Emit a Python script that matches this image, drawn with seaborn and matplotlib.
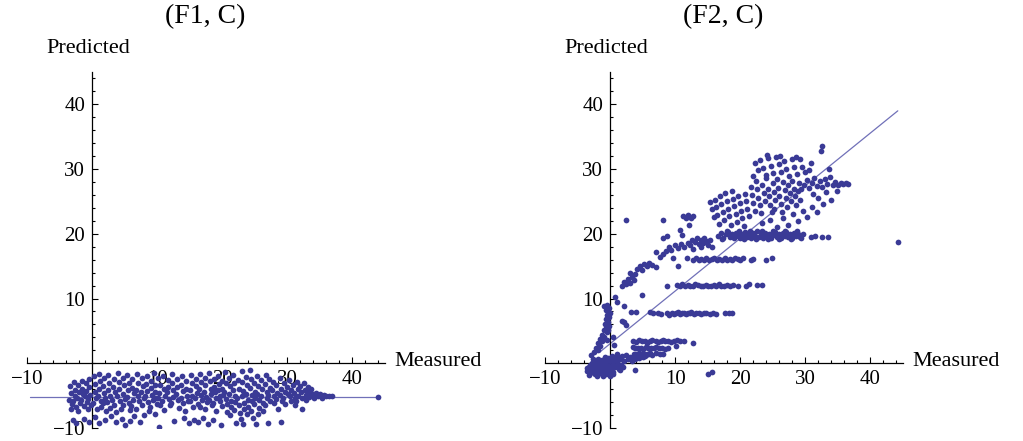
import numpy as np
import pandas as pd
import matplotlib
matplotlib.use("Agg")
import matplotlib.pyplot as plt
from matplotlib.ticker import FixedLocator, MultipleLocator
import seaborn as sns

# ---------------------------------------------------------------
# (F1, C): measured vs predicted
# ---------------------------------------------------------------
f1_points = [
    (-3.4, -3.5), (-3.3, -4.6), (-3.5, -5.6), (-3.1, -6.3), (-3.2, -7.0), (-2.8, -2.9), (-2.7, -4.1),
    (-2.6, -5.0), (-2.9, -5.9), (-2.5, -6.8), (-2.2, -3.4), (-2.0, -4.4), (-2.3, -5.3), (-1.9, -6.1),
    (-2.1, -7.4), (-1.6, -2.7), (-1.5, -3.9), (-1.4, -4.8), (-1.7, -5.7), (-1.3, -6.6), (-1.0, -3.1),
    (-0.9, -4.3), (-1.1, -5.1), (-0.8, -6.0), (-0.7, -7.1), (-0.5, -2.5), (-0.4, -3.6), (-0.3, -4.9),
    (-0.6, -5.5), (-0.2, -6.4), (-3.0, -8.8), (-2.4, -9.2), (-1.2, -8.6), (-0.5, -9.0),
    (0.3, -2.0), (0.5, -3.2), (0.4, -4.4), (0.6, -5.3), (0.2, -6.2), (0.7, -7.0), (0.5, -8.3),
    (1.0, -1.6), (1.2, -2.8), (1.1, -3.9), (0.9, -5.0), (1.3, -5.8), (1.4, -6.7), (1.0, -9.3),
    (1.8, -2.3), (1.7, -3.5), (1.9, -4.6), (2.0, -5.4), (1.6, -6.2), (2.1, -7.3), (2.0, -8.8),
    (2.5, -1.8), (2.6, -3.0), (2.4, -4.1), (2.7, -5.0), (2.3, -6.0), (2.8, -6.9), (2.9, -8.1),
    (3.3, -2.4), (3.2, -3.7), (3.5, -4.5), (3.1, -5.6), (3.4, -6.5), (3.6, -7.6), (3.7, -9.0),
    (4.0, -1.5), (4.1, -2.9), (4.2, -4.0), (3.9, -5.1), (4.3, -5.9), (4.4, -7.0), (4.6, -8.6),
    (4.8, -2.2), (4.9, -3.4), (4.7, -4.7), (5.0, -5.5), (4.8, -6.4), (5.1, -9.5),
    (5.4, -1.8), (5.6, -3.1), (5.5, -4.2), (5.3, -5.2), (5.7, -6.1), (5.8, -7.2), (5.9, -8.9),
    (6.2, -2.5), (6.1, -3.8), (6.4, -4.6), (6.3, -5.7), (6.0, -6.6), (6.5, -8.2), (6.9, -1.6),
    (7.0, -3.0), (6.8, -4.1), (7.1, -5.0), (7.2, -5.9), (6.7, -7.0), (7.3, -9.1), (7.6, -2.2),
    (7.8, -3.5), (7.5, -4.5), (7.9, -5.4), (7.7, -6.5), (8.0, -8.0), (8.4, -1.9), (8.3, -3.2),
    (8.5, -4.3), (8.2, -5.1), (8.6, -6.0), (8.7, -7.4), (9.1, -2.7), (9.0, -3.8), (9.2, -4.9),
    (9.3, -5.7), (8.9, -6.8), (9.5, -1.5), (9.7, -3.4), (9.6, -4.4), (9.8, -5.3), (9.9, -6.3),
    (9.6, -7.8),
    (10.2, -2.2), (10.4, -3.3), (10.3, -4.6), (10.1, -5.4), (10.5, -6.5), (10.3, -9.8), (10.9, -1.9),
    (11.0, -3.9), (11.2, -5.0), (10.8, -5.9), (11.1, -7.2), (11.6, -2.6), (11.7, -3.6), (11.5, -4.5),
    (11.8, -5.5), (11.9, -6.4), (12.3, -1.7), (12.2, -3.0), (12.4, -4.1), (12.5, -5.2), (12.1, -6.1),
    (12.6, -8.9), (13.0, -2.4), (13.1, -3.6), (12.9, -4.8), (13.2, -5.6), (13.3, -6.9), (13.8, -1.9),
    (13.7, -3.3), (13.9, -4.3), (13.6, -5.3), (14.0, -6.2), (14.1, -8.5), (14.5, -2.7), (14.4, -3.9),
    (14.6, -5.0), (14.7, -5.8), (14.3, -7.3), (14.9, -9.3),
    (15.2, -1.8), (15.3, -3.1), (15.1, -4.2), (15.4, -5.1), (15.0, -5.9), (15.5, -6.8), (15.6, -8.8),
    (15.9, -2.4), (16.0, -3.5), (16.1, -4.6), (15.8, -5.4), (16.2, -6.3), (16.3, -9.0), (16.6, -1.6),
    (16.7, -2.9), (16.5, -4.0), (16.8, -4.9), (16.9, -5.7), (16.6, -6.7), (17.0, -8.4), (17.3, -2.2),
    (17.4, -3.4), (17.2, -4.4), (17.5, -5.2), (17.6, -6.0), (17.3, -7.1), (17.8, -9.4), (18.0, -1.5),
    (18.1, -2.8), (18.3, -3.9), (18.2, -4.8), (17.9, -5.6), (18.4, -6.4), (18.5, -8.7), (18.8, -2.5),
    (18.7, -3.6), (18.9, -4.5), (19.0, -5.3), (18.6, -6.2), (19.1, -7.3), (19.4, -1.9), (19.5, -3.2),
    (19.3, -4.2), (19.6, -5.0), (19.7, -5.9), (19.8, -9.6), (19.9, -2.7), (20.0, -4.0), (20.1, -4.9),
    (19.9, -6.6),
    (20.4, -1.4), (20.5, -3.0), (20.3, -4.4), (20.6, -5.5), (20.7, -6.3), (20.8, -7.5), (21.1, -2.2),
    (21.2, -3.5), (21.0, -4.7), (21.3, -5.8), (21.4, -6.8), (21.2, -8.0), (21.7, -1.8), (21.8, -3.1),
    (21.6, -4.2), (21.9, -5.1), (22.0, -6.0), (21.8, -7.2), (22.1, -9.3), (22.4, -2.6), (22.5, -3.9),
    (22.3, -5.4), (22.6, -6.5), (22.7, -7.7), (22.9, -8.6), (23.0, -1.2), (23.1, -2.9), (23.2, -4.3),
    (23.0, -5.0), (23.3, -6.2), (23.4, -7.0), (23.2, -9.4), (23.7, -2.1), (23.8, -3.4), (23.6, -4.7),
    (23.9, -5.6), (24.0, -6.7), (23.8, -7.9), (24.3, -1.0), (24.4, -2.5), (24.2, -3.8), (24.5, -4.9),
    (24.6, -5.9), (24.4, -7.3), (24.7, -8.5), (24.9, -3.0), (25.0, -4.4), (25.1, -5.3), (24.8, -6.3),
    (25.2, -9.4),
    (25.4, -1.9), (25.5, -3.5), (25.3, -4.8), (25.6, -5.7), (25.7, -6.9), (25.5, -7.8), (26.0, -2.6),
    (26.1, -4.0), (25.9, -5.0), (26.2, -6.1), (26.3, -7.4), (26.7, -1.8), (26.6, -3.2), (26.8, -4.5),
    (26.9, -5.4), (26.5, -6.5), (27.2, -2.4), (27.3, -3.8), (27.1, -4.9), (27.4, -5.8), (27.0, -9.2),
    (27.8, -2.9), (27.7, -4.2), (27.9, -5.1), (28.0, -6.2), (28.3, -3.4), (28.4, -4.6), (28.2, -5.5),
    (28.5, -7.0), (28.9, -2.2), (29.0, -4.0), (28.8, -4.9), (29.1, -5.8), (29.0, -9.0), (29.5, -3.0),
    (29.6, -4.4), (29.4, -5.3), (29.7, -6.3), (30.0, -3.7), (30.1, -4.8),
    (30.3, -2.6), (30.5, -4.2), (30.4, -5.1), (30.6, -5.9), (30.9, -3.4), (31.0, -4.6), (31.2, -5.4),
    (31.1, -6.4), (31.5, -2.9), (31.6, -4.0), (31.7, -5.0), (31.4, -5.8), (32.0, -3.5), (32.1, -4.4),
    (32.3, -5.3), (32.2, -7.0), (32.6, -3.1), (32.7, -4.1), (32.8, -4.9), (32.9, -5.7), (33.2, -3.6),
    (33.3, -4.5), (33.4, -5.2), (33.7, -4.0), (33.9, -4.8), (34.1, -5.4), (34.4, -4.6), (34.7, -5.0),
    (35.0, -4.8), (35.3, -5.3), (35.6, -4.9), (36.0, -5.1), (36.4, -5.0), (36.8, -5.0), (44.0, -5.2),
]
f1_fit_x = [-9.5, 44.0]
f1_fit_y = [-5.2, -5.2]

# ---------------------------------------------------------------
# (F2, C)
# ---------------------------------------------------------------
f2_origin = [
    (-3.5, -1.2), (-3.2, -0.6), (-3.0, -1.4), (-2.8, 0.0), (-2.7, -0.9), (-2.5, -1.5), (-2.4, -0.3),
    (-2.2, 0.4), (-2.1, -1.1), (-1.9, -0.5), (-1.8, 0.7), (-1.7, -1.4), (-1.5, 0.1), (-1.4, -0.8),
    (-1.3, -1.6), (-1.2, 0.5), (-1.0, -0.2), (-0.9, -1.2), (-0.8, 0.9), (-0.7, -0.6), (-0.6, -1.7),
    (-0.5, 0.3), (-0.4, -1.0), (-0.3, 0.8), (-0.2, -0.4), (-0.1, -1.5), (0.1, 0.6), (0.2, -0.8),
    (0.3, 1.2), (0.4, -0.1), (0.5, -1.3), (0.7, 0.9), (0.8, -0.5), (1.0, 1.4), (1.1, 0.2),
    (1.3, -0.9), (1.5, 0.7), (1.7, -0.3), (-3.3, -1.8), (-2.0, -1.9), (-1.1, -2.0), (0.0, -1.9),
    (-3.1, -0.2), (-2.6, 0.6), (-2.3, -1.7), (-1.6, -0.9), (-1.2, -0.4), (-0.9, 0.2), (-0.6, -0.1),
    (-0.3, -0.7), (0.0, 0.3), (0.2, -1.2), (0.6, 0.4), (0.9, -0.2), (1.2, 0.9), (1.4, -0.5),
    (-2.9, -1.0), (-1.9, -1.3), (-0.7, -1.3), (0.4, -1.6), (-3.6, -0.8), (-2.0, 0.1),
    (1.9, 1.1), (2.2, 0.4), (2.5, 1.3), (2.8, 0.7), (3.1, 1.0), (3.3, 0.3), (3.6, 1.2), (3.8, -1.0),
    (3.9, 0.6), (4.2, 1.1), (4.5, 0.8), (4.8, 1.3), (5.1, 0.9), (5.4, 1.2), (5.8, 1.4), (6.2, 1.6),
    (2.0, -0.5), (1.5, -1.0), (15.0, -1.6), (15.6, -1.3),
]
f2_low_bands = [
    (3.5, 3.5), (4.0, 3.3), (4.4, 3.6), (4.9, 3.4), (5.3, 3.5), (5.7, 3.2), (6.1, 3.4), (6.5, 3.6),
    (7.0, 3.5), (7.4, 3.3), (7.8, 3.4), (8.1, 3.6), (8.5, 3.5), (8.9, 3.4), (9.3, 3.3), (9.8, 3.5),
    (10.3, 3.6), (10.8, 3.4), (11.3, 3.5), (12.8, 3.1),
    (3.5, 2.5), (3.9, 2.3), (4.3, 2.4), (4.7, 2.4), (5.1, 2.2), (5.5, 2.5), (5.9, 2.4), (6.3, 2.3),
    (6.7, 2.4), (7.1, 2.5), (7.5, 2.3), (7.9, 2.4), (8.4, 2.2), (8.9, 2.4), (10.2, 2.7),
    (3.6, 1.5), (4.0, 1.4), (4.5, 1.6), (4.9, 1.4), (5.4, 1.5), (5.9, 1.5), (6.4, 1.3), (7.0, 1.6),
    (7.6, 1.5), (8.2, 1.4),
]
f2_column = [
    (-0.4, 9.0), (-0.1, 8.6), (-0.6, 8.2), (0.0, 7.8), (-0.5, 7.5), (-0.2, 7.1), (-0.7, 6.8),
    (-0.3, 6.4), (-0.8, 6.1), (-0.1, 5.8), (-0.6, 5.5), (-1.0, 5.1), (-0.4, 4.8), (-1.3, 4.4),
    (-0.9, 4.1), (-1.6, 3.8), (-1.2, 3.4), (-1.9, 3.1), (-1.5, 2.7), (-2.2, 2.4), (-1.8, 2.0),
    (-2.5, 1.7), (-2.9, 1.3), (-0.9, 8.8), (-0.3, 5.1), (-0.5, 3.6),
    (0.8, 10.3), (1.1, 9.5), (2.2, 8.9), (3.2, 7.9), (2.2, 6.4), (2.4, 5.9), (0.5, 4.1),
    (1.8, 6.5), (4.9, 10.6), (0.6, 2.8), (4.0, 7.9),
]
f2_band_8 = [
    (6.2, 7.9), (6.6, 7.7), (7.3, 7.8), (7.8, 7.6), (8.7, 7.7), (9.1, 7.5), (9.5, 7.8), (9.8, 7.6),
    (10.1, 7.7), (10.4, 7.9), (10.7, 7.6), (11.0, 7.8), (11.3, 7.7), (11.6, 7.6), (11.9, 7.8),
    (12.2, 7.7), (12.5, 7.9), (12.9, 7.6), (13.2, 7.7), (13.6, 7.8), (14.0, 7.6), (14.4, 7.7),
    (14.8, 7.8), (15.3, 7.6), (15.8, 7.7), (16.3, 7.6), (17.7, 7.8), (18.2, 7.8), (18.8, 7.8),
]
f2_band_12 = [
    (8.8, 12.0), (10.3, 12.1), (10.7, 11.9), (11.1, 12.2), (11.5, 12.0), (11.9, 12.1), (12.3, 11.9),
    (12.7, 12.0), (13.1, 12.2), (13.5, 12.1), (13.9, 11.9), (14.3, 12.0), (14.7, 12.1), (15.1, 12.0),
    (15.5, 11.9), (15.9, 12.1), (16.3, 12.0), (16.7, 12.2), (17.1, 12.0), (17.5, 11.9), (17.9, 12.1),
    (18.4, 12.0), (18.9, 12.1), (19.6, 12.0), (20.9, 11.9), (21.4, 12.2), (22.6, 12.1), (23.3, 12.1),
]
f2_band_16 = [
    (11.8, 16.3), (12.8, 16.0), (13.2, 16.2), (13.6, 15.9), (14.0, 16.1), (14.4, 16.0), (14.8, 16.3),
    (15.2, 15.9), (15.6, 16.1), (16.0, 16.2), (16.4, 16.0), (16.8, 16.1), (17.2, 15.9), (17.6, 16.2),
    (18.0, 16.0), (18.4, 16.1), (18.8, 16.0), (19.2, 16.2), (19.6, 16.1), (20.0, 16.0), (20.4, 16.2),
    (21.6, 15.9), (22.0, 16.1), (23.9, 16.0), (24.9, 16.2),
]
f2_arm = [
    (1.9, 12.0), (2.2, 12.6), (2.5, 12.2), (2.8, 13.0), (3.1, 12.4), (3.4, 13.4), (3.0, 14.0),
    (3.6, 12.8), (3.9, 13.8), (4.2, 14.6), (4.6, 15.1), (4.9, 14.4), (5.2, 15.4), (5.6, 15.0),
    (6.0, 15.5), (6.4, 15.2), (7.1, 14.8), (7.7, 16.4), (8.2, 16.9), (8.6, 17.3), (9.0, 17.9),
    (9.4, 17.5), (9.9, 18.2), (10.4, 17.8), (10.9, 18.4), (11.4, 17.9), (11.9, 18.6), (12.3, 18.2),
    (12.6, 19.0), (13.0, 18.7), (13.3, 19.3), (13.6, 18.4), (13.9, 19.0), (14.2, 18.6), (14.5, 19.4),
    (14.8, 18.9), (15.1, 18.3), (15.4, 19.1), (15.7, 18.0), (12.8, 17.6), (14.0, 17.9), (8.1, 19.3),
    (8.8, 19.6), (9.6, 16.3), (10.5, 15.0), (7.0, 17.2),
    (2.5, 22.1), (8.2, 22.1), (11.2, 22.8), (11.6, 22.4), (12.0, 22.9), (12.4, 22.5), (12.8, 22.7),
    (10.8, 20.6), (12.1, 21.3), (11.0, 19.8),
]
f2_band_20 = [
    (16.6, 19.6), (17.0, 20.1), (17.4, 19.4), (17.8, 19.9), (18.1, 20.3), (18.4, 19.5), (18.7, 19.9),
    (19.0, 19.3), (19.3, 20.2), (19.6, 19.7), (19.9, 19.4), (20.2, 20.0), (20.5, 19.6), (20.8, 20.3),
    (21.1, 19.5), (21.4, 19.9), (21.7, 19.3), (22.0, 20.1), (22.3, 19.7), (22.6, 20.4), (22.9, 19.5),
    (23.2, 19.9), (23.5, 19.4), (23.8, 20.2), (24.1, 19.6), (24.4, 20.0), (24.7, 19.3), (25.0, 19.8),
    (25.3, 20.3), (25.6, 19.5), (25.9, 19.9), (26.2, 19.4), (26.5, 20.1), (26.8, 19.7), (27.1, 20.3),
    (27.4, 19.5), (27.7, 19.9), (28.0, 19.3), (28.3, 20.1), (28.6, 19.6), (28.9, 20.0), (29.2, 19.5),
    (29.6, 19.9),
    (17.2, 19.2), (18.0, 20.4), (18.9, 19.6), (19.8, 20.5), (20.6, 19.2), (21.5, 20.4), (22.4, 19.2),
    (23.3, 20.5), (24.2, 19.2), (25.1, 20.4), (26.0, 19.2), (26.9, 20.5), (27.8, 19.2), (28.7, 20.4),
    (29.4, 19.3),
    (30.8, 19.5), (31.5, 19.6), (32.6, 19.5), (33.5, 19.5), (44.2, 18.8),
]
f2_upper = [
    (15.3, 24.9), (15.6, 23.8), (15.9, 22.6), (16.1, 25.3), (16.3, 24.1), (16.5, 22.9), (16.7, 21.5),
    (16.9, 25.9), (17.1, 24.6), (17.3, 23.3), (17.5, 22.2), (17.7, 26.3), (17.9, 25.1), (18.1, 23.9),
    (18.3, 22.7), (18.5, 21.4), (18.7, 26.6), (18.9, 25.4), (19.1, 24.3), (19.3, 23.1), (19.5, 21.9),
    (19.7, 25.8), (19.9, 24.7), (20.1, 23.6), (20.3, 22.4), (20.5, 21.2), (20.7, 26.1), (20.9, 25.0),
    (21.1, 23.9), (21.3, 22.8),
    (21.6, 27.2), (21.8, 26.0), (22.0, 24.8), (22.2, 23.6), (22.4, 28.1), (22.6, 26.9), (22.8, 25.6),
    (23.0, 24.4), (23.2, 23.2), (23.4, 27.5), (23.6, 26.3), (23.8, 25.1), (24.0, 28.6), (24.2, 27.0),
    (24.4, 25.8), (24.6, 24.5), (24.8, 23.3), (25.0, 27.8), (25.2, 26.5), (25.4, 25.3), (25.6, 28.4),
    (25.8, 27.1), (26.0, 25.9), (26.2, 24.6), (26.4, 23.4), (26.6, 28.0), (26.8, 26.7), (27.0, 25.5),
    (27.2, 24.2), (27.4, 27.5), (27.6, 26.3), (27.8, 25.0), (28.0, 28.2), (28.2, 27.0), (28.4, 25.8),
    (28.6, 24.5), (28.8, 26.6), (29.0, 27.8), (29.2, 25.3), (29.4, 26.9),
    (22.3, 30.9), (22.7, 29.8), (23.1, 31.4), (23.5, 30.2), (23.9, 29.1), (24.3, 31.7), (24.7, 30.5),
    (25.1, 29.4), (25.5, 31.9), (25.9, 30.8), (26.3, 29.6), (26.7, 31.2), (27.1, 30.0), (27.5, 28.9),
    (27.9, 31.5), (28.3, 30.3), (28.7, 29.2), (29.1, 31.6), (29.5, 30.4), (29.9, 29.5), (22.0, 28.9),
    (24.1, 32.1), (26.1, 32.0), (28.6, 31.8),
    (23.4, 21.6), (24.6, 22.1), (25.7, 21.0), (26.5, 22.5), (27.3, 21.4), (28.1, 23.0), (28.9, 22.0),
    (29.6, 23.5), (30.3, 22.6), (31.0, 24.1), (31.8, 23.3), (32.7, 24.6), (25.2, 23.8),
    (29.8, 27.6), (30.2, 28.3), (30.6, 27.1), (31.0, 27.9), (31.4, 28.6), (31.8, 27.4), (32.2, 28.1),
    (32.6, 27.3), (33.0, 28.4), (33.4, 27.7), (33.8, 28.8), (34.2, 27.5), (34.6, 28.0), (35.0, 27.6),
    (35.4, 27.9), (35.8, 27.7), (36.2, 27.8), (36.6, 27.7), (30.5, 29.8), (31.2, 26.2), (32.0, 25.6),
    (33.1, 26.4), (33.9, 25.2), (34.8, 26.6), (30.8, 31.0), (32.5, 33.5), (32.4, 32.8), (33.7, 30.0),
]
f2_fit_x = [-1.5, 44.2]
f2_fit_y = [1.8, 39.0]

titles = ["(F1, C)", "(F2, C)"]
major_ticks = [-10, 10, 20, 30, 40]

sns.set_style("white")
plt.rcParams["font.family"] = ["Liberation Serif", "DejaVu Serif"]
plt.rcParams["axes.edgecolor"] = "black"
plt.rcParams["text.color"] = "black"

point_color = "#3a3a96"
line_color = "#7070b8"


def to_frame(*groups):
    pts = [p for g in groups for p in g]
    return pd.DataFrame(pts, columns=["Measured", "Predicted"])


def draw_panel(ax, df, fit_x, fit_y, title):
    ax.plot(fit_x, fit_y, color=line_color, lw=0.9, zorder=2)
    sns.scatterplot(data=df, x="Measured", y="Predicted", ax=ax, color=point_color,
                    s=17, linewidth=0, zorder=3)
    ax.set_xlim(-10, 45)
    ax.set_ylim(-10, 45)
    ax.set_xlabel("")
    ax.set_ylabel("")
    ax.patch.set_alpha(0)
    # mathematica style axes crossing at the origin
    ax.spines["top"].set_visible(False)
    ax.spines["right"].set_visible(False)
    ax.spines["left"].set_position(("data", 0))
    ax.spines["bottom"].set_position(("data", 0))
    for s in ["left", "bottom"]:
        ax.spines[s].set_linewidth(0.9)
    for axis in [ax.xaxis, ax.yaxis]:
        axis.set_major_locator(FixedLocator(major_ticks))
        axis.set_minor_locator(MultipleLocator(2))
    ax.tick_params(which="both", direction="in", bottom=True, left=True, width=0.8,
                   colors="black", labelsize=15)
    ax.tick_params(which="major", length=4.5, pad=5)
    ax.tick_params(which="minor", length=2.2)
    ax.text(-0.6, 48.6, "Predicted", ha="center", va="center", fontsize=16, clip_on=False)
    ax.text(46.4, 0.2, "Measured", ha="left", va="center", fontsize=16, clip_on=False)
    ax.text(17.4, 53.6, title, ha="center", va="center", fontsize=20, clip_on=False)


fig = plt.figure(figsize=(10.23, 4.41), dpi=100)
ax1 = fig.add_axes([27 / 1023, 13 / 441, 358 / 1023, 356 / 441])
ax2 = fig.add_axes([545 / 1023, 13 / 441, 358 / 1023, 356 / 441])

draw_panel(ax1, to_frame(f1_points), f1_fit_x, f1_fit_y, titles[0])
draw_panel(ax2, to_frame(f2_origin, f2_low_bands, f2_column, f2_band_8, f2_band_12,
                         f2_band_16, f2_arm, f2_band_20, f2_upper),
           f2_fit_x, f2_fit_y, titles[1])

fig.savefig("out.png", dpi=100)
